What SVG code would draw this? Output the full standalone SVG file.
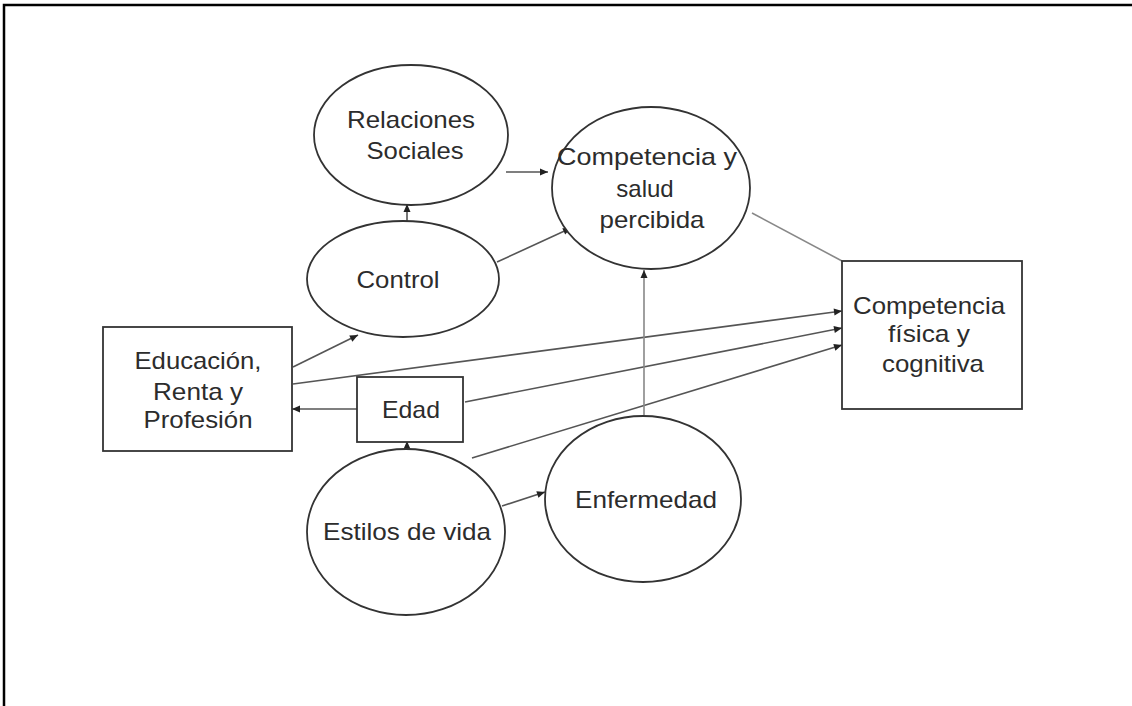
<svg xmlns="http://www.w3.org/2000/svg" width="1132" height="706" viewBox="0 0 1132 706">
<style>
.shape{fill:#fff;stroke:#333;stroke-width:1.8}
.edge{fill:none;stroke:#555;stroke-width:1.6}
.light{stroke:#888}
text{font-family:"Liberation Sans",Arial,sans-serif;font-size:24px;fill:#2c2c2c;text-anchor:middle}
</style>
<defs>
<marker id="ah" markerUnits="userSpaceOnUse" markerWidth="10" markerHeight="10" viewBox="0 0 10 10" refX="9" refY="5" orient="auto">
<path d="M1,1.5 L9,5 L1,8.5 Z" fill="#222"/>
</marker>
</defs>
<rect x="0" y="0" width="1132" height="706" fill="#fff"/>
<path d="M4,706 V5 H1132" fill="none" stroke="#000" stroke-width="2.5"/>

<g id="connectors">
<line class="edge" x1="506" y1="172" x2="548" y2="172" marker-end="url(#ah)"/>
<line class="edge" x1="407" y1="221" x2="407" y2="204" marker-end="url(#ah)"/>
<line class="edge" x1="497" y1="262" x2="571" y2="228" marker-end="url(#ah)"/>
<line class="edge" x1="293" y1="367" x2="358" y2="335" marker-end="url(#ah)"/>
<line class="edge" x1="293" y1="384" x2="842" y2="311" marker-end="url(#ah)"/>
<line class="edge" x1="465" y1="402" x2="842" y2="328" marker-end="url(#ah)"/>
<line class="edge" x1="472" y1="458" x2="842" y2="345" marker-end="url(#ah)"/>
<line class="edge" x1="357" y1="409" x2="292" y2="409" marker-end="url(#ah)"/>
<line class="edge" x1="407" y1="449" x2="407" y2="441" marker-end="url(#ah)"/>
<line class="edge" x1="502" y1="506" x2="545" y2="492" marker-end="url(#ah)"/>
<line class="edge light" x1="644" y1="415" x2="644" y2="270" marker-end="url(#ah)"/>
<line class="edge light" x1="752" y1="213" x2="842" y2="261"/>
</g>

<g id="relaciones">
<ellipse class="shape" cx="411" cy="135" rx="97" ry="70"/>
<text x="411" y="128" textLength="128" lengthAdjust="spacingAndGlyphs">Relaciones</text>
<text x="415" y="159" textLength="97" lengthAdjust="spacingAndGlyphs">Sociales</text>
</g>

<g id="competencia-salud">
<ellipse class="shape" cx="651" cy="188" rx="99" ry="81"/>
<text x="647" y="165" textLength="180" lengthAdjust="spacingAndGlyphs">Competencia y</text>
<text x="645" y="197">salud</text>
<text x="652" y="228" textLength="105" lengthAdjust="spacingAndGlyphs">percibida</text>
</g>

<g id="control">
<ellipse class="shape" cx="403" cy="279" rx="96" ry="58"/>
<text x="398" y="288" textLength="83" lengthAdjust="spacingAndGlyphs">Control</text>
</g>

<g id="educacion">
<rect class="shape" x="103" y="327" width="189" height="124"/>
<text x="198" y="369" textLength="127" lengthAdjust="spacingAndGlyphs">Educación,</text>
<text x="198" y="400" textLength="90" lengthAdjust="spacingAndGlyphs">Renta y</text>
<text x="198" y="428" textLength="109" lengthAdjust="spacingAndGlyphs">Profesión</text>
</g>

<g id="edad">
<rect class="shape" x="357" y="377" width="106" height="65"/>
<text x="411" y="418" textLength="58" lengthAdjust="spacingAndGlyphs">Edad</text>
</g>

<g id="competencia-fisica">
<rect class="shape" x="842" y="261" width="180" height="148"/>
<text x="929" y="314" textLength="152" lengthAdjust="spacingAndGlyphs">Competencia</text>
<text x="929" y="342" textLength="82" lengthAdjust="spacingAndGlyphs">física y</text>
<text x="933" y="372" textLength="102" lengthAdjust="spacingAndGlyphs">cognitiva</text>
</g>

<g id="estilos">
<ellipse class="shape" cx="406" cy="532" rx="99" ry="83"/>
<text x="407" y="540" textLength="168" lengthAdjust="spacingAndGlyphs">Estilos de vida</text>
</g>

<g id="enfermedad">
<ellipse class="shape" cx="643" cy="499" rx="98" ry="83"/>
<text x="646" y="508" textLength="142" lengthAdjust="spacingAndGlyphs">Enfermedad</text>
</g>
</svg>
